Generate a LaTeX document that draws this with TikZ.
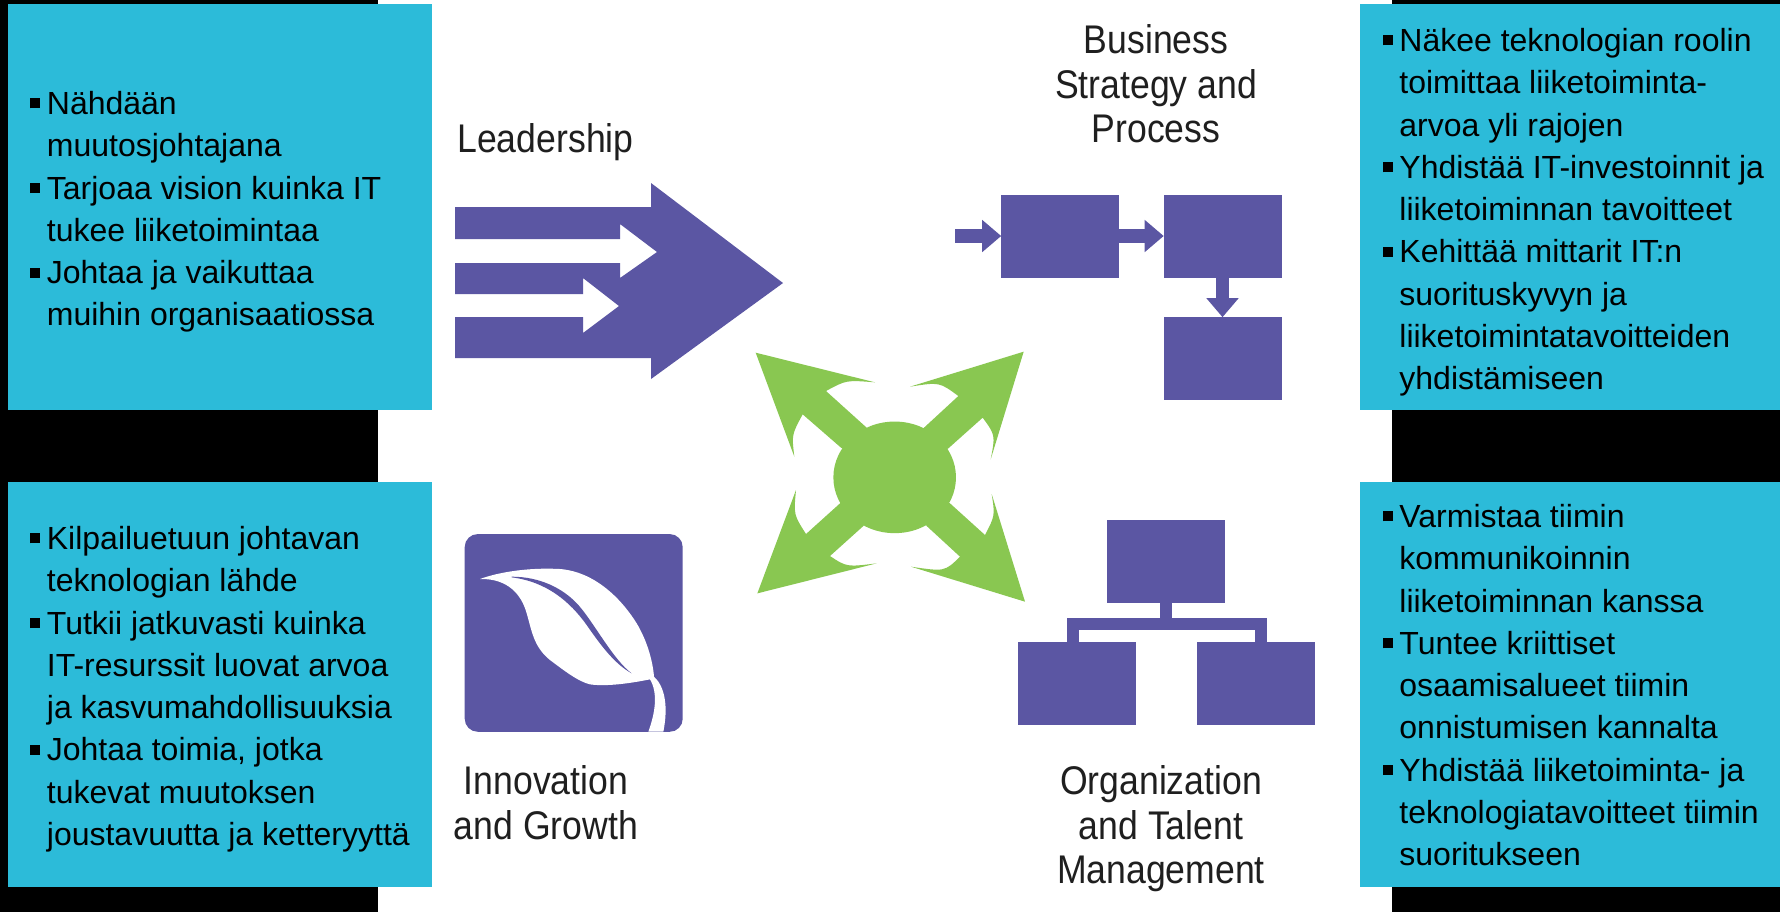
\documentclass[tikz,border=0pt]{standalone}
\usepackage{fontspec}
\setmainfont{Liberation Sans}
\newfontfamily\headfont[FakeStretch=0.89]{Liberation Sans}
\usetikzlibrary{arrows.meta,shapes.geometric}
\definecolor{cyanbox}{HTML}{2CBBD9}
\definecolor{purp}{HTML}{5B56A3}
\definecolor{grn}{HTML}{89C751}
\newcommand\blt{\rule{0pt}{15pt}\llap{\rule[3pt]{5pt}{5pt}\hspace{3.25pt}}}
\tikzset{
  infobox/.style={fill=cyanbox,inner sep=0,minimum width=#1},
  bodytext/.style={anchor=north west,inner sep=0,align=left,text=black,font=\fontsize{16}{21.15}\selectfont},
  headtext/.style={inner sep=0,text=black!88,font=\headfont\fontsize{20}{22.2}\selectfont},
  pbox/.style={fill=purp,inner sep=0,minimum width=59pt,minimum height=41.5pt},
  blockarrow/.style={draw=purp,line width=6.75pt,-{Triangle[length=9.5pt,width=15.5pt]},shorten >=-0.3pt},
  orgline/.style={draw=purp,line width=6pt,line cap=butt,line join=miter},
}
\begin{document}
\begin{tikzpicture}[x=.5pt,y=-.5pt]
\useasboundingbox (0,0) rectangle (1780,912);
\fill[black] (0,0) rectangle (1780,912);
\fill[white] (378,0) rectangle (1392,912);
% text panels
\node[infobox=212pt,minimum height=203pt] (tl) at (220,207) {};
\node[infobox=210pt,minimum height=203pt] (tr) at (1570,207) {};
\node[infobox=212pt,minimum height=202.5pt] (bl) at (220,684.5) {};
\node[infobox=210pt,minimum height=202.5pt] (br) at (1570,684.5) {};
\node[bodytext] (tltext) at (46.5,84) {\blt Nähdään\\muutosjohtajana\\\blt Tarjoaa vision kuinka IT\\tukee liiketoimintaa\\\blt Johtaa ja vaikuttaa\\muihin organisaatiossa};
\node[bodytext] (trtext) at (1399,21) {\blt Näkee teknologian roolin\\toimittaa liiketoiminta-\\arvoa yli rajojen\\\blt Yhdistää IT-investoinnit ja\\liiketoiminnan tavoitteet\\\blt Kehittää mittarit IT:n\\suorituskyvyn ja\\liiketoimintatavoitteiden\\yhdistämiseen};
\node[bodytext] (bltext) at (46.5,519) {\blt Kilpailuetuun johtavan\\teknologian lähde\\\blt Tutkii jatkuvasti kuinka\\IT-resurssit luovat arvoa\\ja kasvumahdollisuuksia\\\blt Johtaa toimia, jotka\\tukevat muutoksen\\joustavuutta ja ketteryyttä};
\node[bodytext] (brtext) at (1399,497) {\blt Varmistaa tiimin\\kommunikoinnin\\liiketoiminnan kanssa\\\blt Tuntee kriittiset\\osaamisalueet tiimin\\onnistumisen kannalta\\\blt Yhdistää liiketoiminta- ja\\teknologiatavoitteet tiimin\\suoritukseen};
% headings
\node[headtext,anchor=base west] (leadh) at (457,152) {Leadership};
\node[headtext,anchor=base] (bsp1) at (1156,53) {Business};
\node[headtext,anchor=base] (bsp2) at (1156,98) {Strategy and};
\node[headtext,anchor=base] (bsp3) at (1156,142) {Process};
\node[headtext,anchor=base] (ig1) at (546,794) {Innovation};
\node[headtext,anchor=base] (ig2) at (546,839) {and Growth};
\node[headtext,anchor=base] (ot1) at (1161,794) {Organization};
\node[headtext,anchor=base] (ot2) at (1161,839) {and Talent};
\node[headtext,anchor=base] (ot3) at (1161,883) {Management};
% leadership arrow
\fill[purp] (455,207)--(651,207)--(651,183)--(783,283)--(651,379)--(651,358)--(455,358)--(455,317)--(583,317)--(583,333)--(619,306)--(583,278)--(583,294)--(455,294)--(455,263)--(620,263)--(620,278)--(657,252)--(620,224)--(620,239)--(455,239)--cycle;
% process
\node[pbox] (p1) at (1060,236) {};
\node[pbox] (p2) at (1222.5,236) {};
\node[pbox] (p3) at (1222.5,358.5) {};
\coordinate (pin) at (955,236);
\draw[blockarrow] (pin) -- (p1.west);
\draw[blockarrow] (p1.east) -- (p2.west);
\draw[blockarrow] (p2.south) -- (p3.north);
% organisation
\node[pbox] (otop) at (1166,561.5) {};
\node[pbox] (oleft) at (1076.5,683.5) {};
\node[pbox] (oright) at (1255.5,683.5) {};
\coordinate (jl) at (1072.5,623.5);
\coordinate (jr) at (1260.5,623.5);
\draw[orgline] (otop.south) -- (otop.south |- jl);
\draw[orgline] (jl |- oleft.north) -- (jl) -- (jr) -- (jr |- oright.north);
% leaf
\node[fill=purp,inner sep=0,minimum width=109pt,minimum height=98.85pt,rounded corners=6.5pt] (leafbox) at (573.7,632.9) {};
\begin{scope}[shift={(450,520)},x=.16667pt,y=-.16667pt]
\fill[white] (90,177) .. controls (150,155) and (240,142) .. (330,147)
  .. controls (430,155) and (510,230) .. (560,310)
  .. controls (590,360) and (608,420) .. (612,470)
  .. controls (645,500) and (655,560) .. (640,635) -- (595,635)
  .. controls (615,580) and (625,520) .. (600,478)
  .. controls (540,490) and (470,500) .. (420,493)
  .. controls (385,485) and (340,450) .. (300,420)
  .. controls (250,380) and (245,330) .. (230,280)
  .. controls (215,225) and (175,175) .. (90,177) -- cycle;
\fill[purp] (185,170) .. controls (270,170) and (340,205) .. (385,255)
  .. controls (430,305) and (490,420) .. (545,460)
  .. controls (490,430) and (445,365) .. (410,315)
  .. controls (360,245) and (290,185) .. (185,172) -- cycle;
\end{scope}
% green cross
\begin{scope}[shift={(740,340)},x=.16667pt,y=-.16667pt]
\node[fill=grn,ellipse,inner sep=0,minimum width=61.3pt,minimum height=55.8pt] (hub) at (464,412) {};
\fill[grn] (47,38) -- (405,127) .. controls (319,120) .. (258,153) -- (380,263) -- (hub.center) -- (303,323) -- (188,223) .. controls (155,284) .. (163,350) -- cycle;
\fill[grn] (851,35) -- (510,140) .. controls (598,126) .. (655,168) -- (552,263) -- (hub.center) -- (625,325) -- (728,233) .. controls (766,285) .. (752,358) -- cycle;
\fill[grn] (52,760) -- (410,670) .. controls (320,681) .. (270,648) -- (370,558) -- (hub.center) -- (300,490) -- (198,582) .. controls (161,524) .. (168,450) -- cycle;
\fill[grn] (855,785) -- (513,680) .. controls (614,695) .. (660,650) -- (560,558) -- (hub.center) -- (630,490) -- (735,585) .. controls (765,527) .. (755,462) -- cycle;
\end{scope}
\end{tikzpicture}
\end{document}
